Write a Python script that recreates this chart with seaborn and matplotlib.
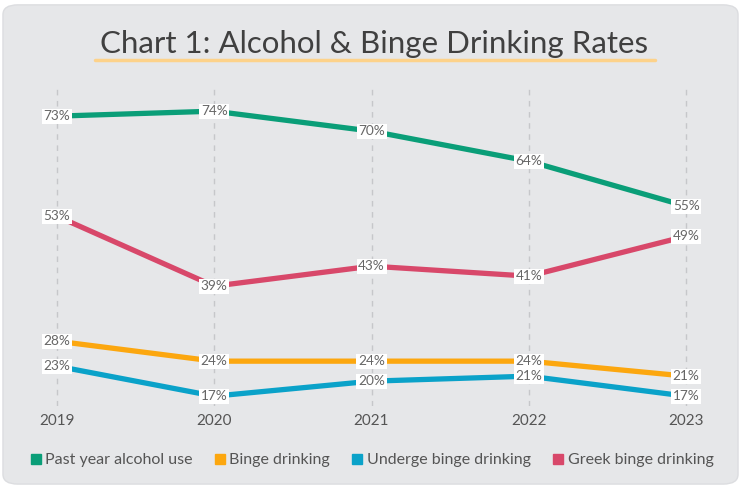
import pandas as pd
import matplotlib.pyplot as plt
import seaborn as sns
from matplotlib.patches import FancyBboxPatch
from matplotlib.lines import Line2D

# data
years = ["2019", "2020", "2021", "2022", "2023"]
past_year_alcohol = [73, 74, 70, 64, 55]
binge = [28, 24, 24, 24, 21]
underage_binge = [23, 17, 20, 21, 17]
greek_binge = [53, 39, 43, 41, 49]

series_names = ["Past year alcohol use", "Binge drinking", "Underge binge drinking", "Greek binge drinking"]
colors = ["#0a9e78", "#fca70f", "#0aa2c9", "#d8486a"]

rows = []
for name, vals in zip(series_names, [past_year_alcohol, binge, underage_binge, greek_binge]):
    for i, (yr, v) in enumerate(zip(years, vals)):
        rows.append({"series": name, "pos": i, "year": yr, "value": v})
df = pd.DataFrame(rows)

sns.set_theme(style="white")
plt.rcParams["font.family"] = ["Lato", "DejaVu Sans"]

fig = plt.figure(figsize=(7.41, 4.87), dpi=100)
bg = "#e6e7e9"
# rounded panel behind everything
panel = FancyBboxPatch((0.004, 0.006), 0.992, 0.984, boxstyle="round,pad=0,rounding_size=0.02",
                       transform=fig.transFigure, facecolor=bg, edgecolor="#dcdde0", lw=1, zorder=-10)
fig.patches.append(panel)

ax = fig.add_axes([0.0344, 0.166, 0.934, 0.653])
ax.set_zorder(2)
ax.set_facecolor("none")
ax.patch.set_alpha(0)

sns.lineplot(data=df, x="pos", y="value", hue="series", palette=colors,
             linewidth=3.8, legend=False, ax=ax, zorder=3)

# vertical dashed guides
for i in range(len(years)):
    ax.axvline(i, color="#c6c7ca", lw=1, ls=(0, (4, 4)), zorder=1)

# value labels
for _, r in df.iterrows():
    ax.text(r["pos"], r["value"], f"{r['value']}%", ha="center", va="center",
            fontsize=9.8, color="#666666", zorder=5,
            bbox=dict(boxstyle="square,pad=0.12", fc="white", ec="none"))

ax.set_xlim(-0.2, 4.2)
ax.set_ylim(15, 78.6)
ax.set_xticks(range(len(years)))
ax.set_xticklabels(years, fontsize=11, color="#555555")
ax.set_yticks([])
ax.tick_params(axis="x", length=0, pad=6)
ax.set_xlabel("")
ax.set_ylabel("")
sns.despine(ax=ax, left=True, bottom=True)

# title with underline
fig.text(0.505, 0.91, "Chart 1: Alcohol & Binge Drinking Rates", ha="center", va="center",
         fontsize=22.5, color="#404040", zorder=3)
fig.add_artist(Line2D([0.128, 0.884], [0.877, 0.877], color="#fdd28a", lw=2.5,
                      transform=fig.transFigure, zorder=2))

# legend
handles = [Line2D([0], [0], marker="s", ls="none", color=c, markersize=7.5) for c in colors]
fig.legend(handles, series_names, loc="center", bbox_to_anchor=(0.5, 0.055), ncol=4,
           frameon=False, fontsize=11.5, labelcolor="#555555", handletextpad=0.1,
           columnspacing=1.2, handlelength=1.0)

fig.savefig("out.png", dpi=100, facecolor="white")
